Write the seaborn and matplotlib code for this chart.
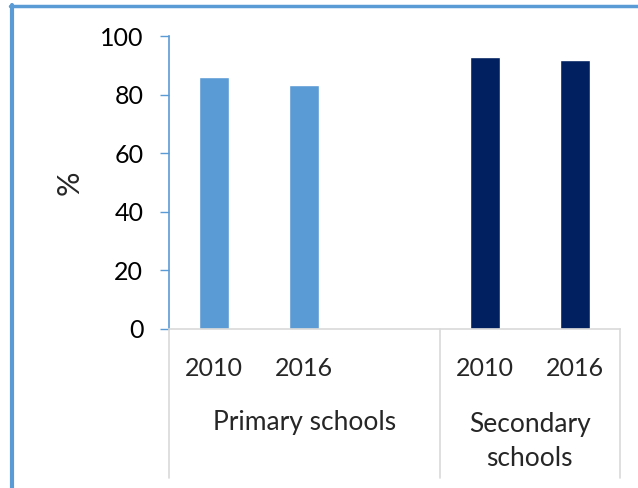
import pandas as pd
import seaborn as sns
import matplotlib.pyplot as plt
from matplotlib.lines import Line2D

# values
schools = ["Primary schools", "Primary schools", "Secondary schools", "Secondary schools"]
years = ["2010", "2016", "2010", "2016"]
values = [86.0, 83.3, 92.8, 91.8]
group_labels = ["Primary schools", "Secondary\nschools"]

colors = {"Primary schools": "#5B9BD5", "Secondary schools": "#002060"}
axis_blue = "#5B9BD5"
grid_gray = "#D9D9D9"

# slots: primary group has an empty third slot
slots = ["P2010", "P2016", "Pgap", "S2010", "S2016"]
df = pd.DataFrame({
    "slot": ["P2010", "P2016", "S2010", "S2016"],
    "school": schools,
    "value": values,
})

sns.set_theme(style="white")
plt.rcParams["font.family"] = ["Lato", "DejaVu Sans"]

fig = plt.figure(figsize=(6.38, 4.88), dpi=100)
ax = fig.add_axes([169 / 638, 1 - 329 / 488, (620 - 169) / 638, (329 - 36) / 488])

sns.barplot(data=df, x="slot", y="value", hue="school", order=slots,
            palette=colors, dodge=False, width=1 / 3, saturation=1,
            legend=False, ax=ax)

ax.set_xlim(-0.5, 4.5)
ax.set_ylim(0, 100)
ax.set_yticks([0, 20, 40, 60, 80, 100])
ax.tick_params(axis="y", left=True, length=6.5, width=1, color=axis_blue,
               labelsize=18, pad=12, labelcolor="black")
ax.set_ylabel("%", fontsize=22, labelpad=12)
ax.set_xlabel("")

ax.set_xticks([0, 1, 3, 4])
ax.set_xticklabels(years, fontsize=18)
ax.tick_params(axis="x", bottom=False, pad=14)

for s in ["top", "right"]:
    ax.spines[s].set_visible(False)
ax.spines["left"].set_color(axis_blue)
ax.spines["left"].set_linewidth(1.2)
ax.spines["bottom"].set_color(grid_gray)
ax.spines["bottom"].set_linewidth(1.2)

# multi-level category dividers
trans = ax.get_xaxis_transform()
for xv in [-0.5, 2.5, 4.5]:
    ax.plot([xv, xv], [0, -0.51], transform=trans, color=grid_gray,
            lw=1.2, clip_on=False)

ax.text(1.0, -0.32, group_labels[0], transform=trans, ha="center",
        va="center", fontsize=19)
ax.text(3.5, -0.385, group_labels[1], transform=trans, ha="center",
        va="center", fontsize=19, linespacing=1.45)

# blue frame edges of the chart box
fig.add_artist(Line2D([11.5 / 638, 11.5 / 638], [0, 1 - 5 / 488],
                      transform=fig.transFigure, color=axis_blue, lw=3))
fig.add_artist(Line2D([10 / 638, 1], [1 - 6 / 488, 1 - 6 / 488],
                      transform=fig.transFigure, color=axis_blue, lw=2.5))

fig.savefig("out.png", dpi=100)
